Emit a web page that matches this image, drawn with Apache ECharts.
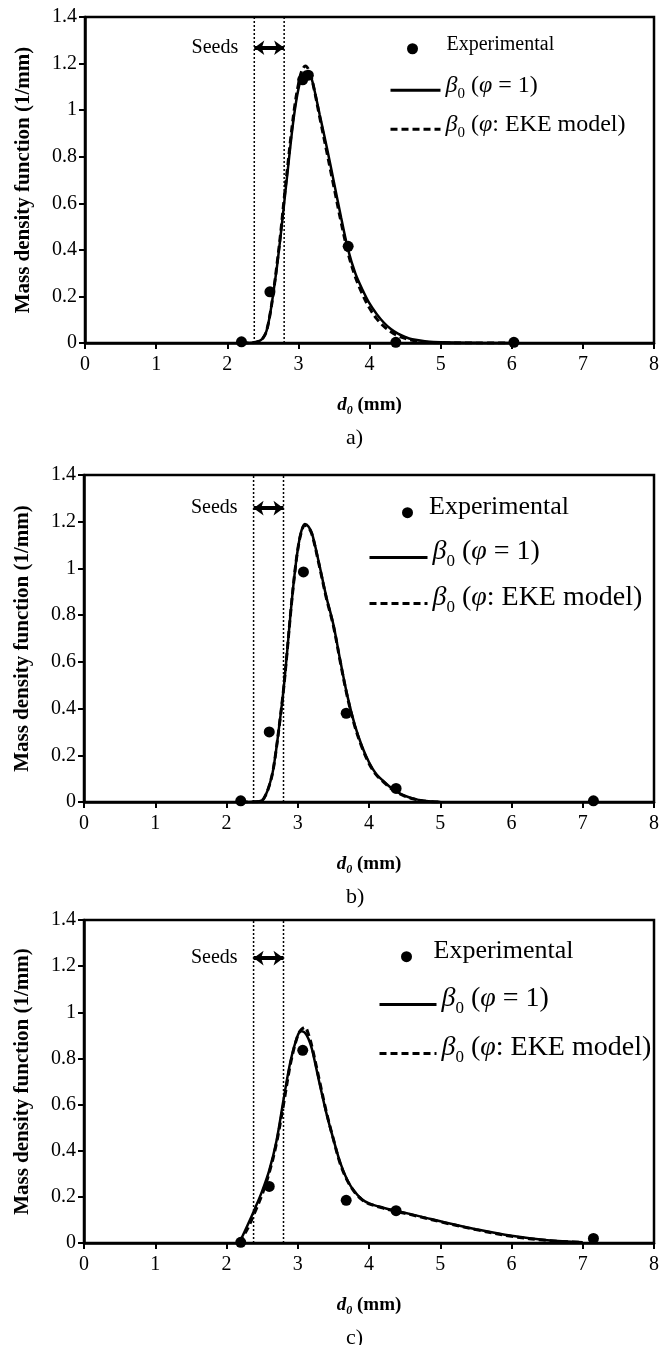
<!DOCTYPE html>
<html>
<head>
<meta charset="utf-8">
<script src="https://cdn.jsdelivr.net/npm/echarts@6/dist/echarts.min.js"></script>
<style>
html,body{margin:0;padding:0;background:#fff;}
#chart{width:662px;height:1345px;}
</style>
</head>
<body>
<div id="chart"></div>
<script>
// ---------- data ----------
const panelLabels = ['a)', 'b)', 'c)'];
const xTicks = [0, 1, 2, 3, 4, 5, 6, 7, 8];
const yTicks = [0, 0.2, 0.4, 0.6, 0.8, 1, 1.2, 1.4];
const seedsX = [2.38, 2.8];
const seedsY = [1.268, 1.258, 1.235];

// Experimental points
const expXa = [2.2, 2.6, 3.06, 3.14, 3.7, 4.37, 6.03];
const expYa = [0.005, 0.22, 1.13, 1.15, 0.415, 0.003, 0.003];
const expXb = [2.2, 2.6, 3.08, 3.68, 4.38, 7.15];
const expYb = [0.005, 0.30, 0.985, 0.38, 0.058, 0.005];
const expXc = [2.2, 2.6, 3.07, 3.68, 4.38, 7.15];
const expYc = [0.003, 0.245, 0.835, 0.185, 0.14, 0.02];

// Model curves, panel a
const curveXa = [2.2, 2.3, 2.4, 2.45, 2.5, 2.55, 2.6, 2.65, 2.7, 2.75, 2.8, 2.85, 2.9, 2.95, 3.0, 3.05, 3.1, 3.15, 3.2, 3.3, 3.4, 3.5, 3.6, 3.7, 3.8, 3.9, 4.0, 4.1, 4.2, 4.3, 4.4, 4.5, 4.6, 4.8, 5.0, 5.5, 6.0];
const solidA = [0, 0, 0.003, 0.008, 0.02, 0.05, 0.12, 0.22, 0.33, 0.46, 0.6, 0.74, 0.88, 1.0, 1.09, 1.145, 1.165, 1.16, 1.12, 0.98, 0.84, 0.69, 0.54, 0.40, 0.30, 0.23, 0.17, 0.125, 0.088, 0.06, 0.04, 0.026, 0.016, 0.007, 0.003, 0.001, 0];
const dashA = [0, 0, 0.003, 0.008, 0.02, 0.05, 0.12, 0.22, 0.34, 0.47, 0.62, 0.76, 0.9, 1.02, 1.11, 1.17, 1.19, 1.17, 1.12, 0.97, 0.82, 0.67, 0.52, 0.385, 0.285, 0.21, 0.15, 0.105, 0.072, 0.048, 0.031, 0.02, 0.012, 0.004, 0.001, 0, 0];

// panel b
const curveXb = [2.2, 2.4, 2.5, 2.55, 2.6, 2.65, 2.7, 2.75, 2.8, 2.85, 2.9, 2.95, 3.0, 3.05, 3.1, 3.15, 3.2, 3.3, 3.4, 3.5, 3.6, 3.7, 3.8, 3.9, 4.0, 4.1, 4.2, 4.3, 4.4, 4.5, 4.6, 4.7, 4.8, 5.0];
const solidB = [0, 0.001, 0.007, 0.03, 0.07, 0.13, 0.23, 0.35, 0.48, 0.64, 0.81, 0.96, 1.08, 1.16, 1.19, 1.18, 1.15, 1.02, 0.88, 0.76, 0.6, 0.45, 0.33, 0.24, 0.17, 0.12, 0.09, 0.063, 0.042, 0.027, 0.016, 0.009, 0.004, 0];
const dashB = [0, 0.001, 0.007, 0.03, 0.07, 0.13, 0.23, 0.35, 0.48, 0.64, 0.81, 0.96, 1.08, 1.155, 1.185, 1.175, 1.145, 1.015, 0.875, 0.755, 0.595, 0.445, 0.325, 0.235, 0.165, 0.117, 0.087, 0.06, 0.04, 0.025, 0.015, 0.008, 0.003, 0];

// panel c
const curveXc = [2.18, 2.3, 2.4, 2.5, 2.6, 2.7, 2.8, 2.9, 3.0, 3.05, 3.1, 3.15, 3.2, 3.3, 3.4, 3.5, 3.6, 3.7, 3.8, 3.9, 4.0, 4.2, 4.4, 4.6, 4.8, 5.0, 5.5, 6.0, 6.5, 7.0];
const solidC = [0, 0.08, 0.15, 0.225, 0.315, 0.44, 0.62, 0.79, 0.9, 0.918, 0.912, 0.885, 0.84, 0.70, 0.565, 0.45, 0.345, 0.27, 0.222, 0.19, 0.172, 0.153, 0.138, 0.124, 0.109, 0.094, 0.06, 0.031, 0.012, 0.003];
const dashC = [0, 0.065, 0.135, 0.21, 0.305, 0.43, 0.6, 0.78, 0.9, 0.925, 0.935, 0.905, 0.85, 0.71, 0.57, 0.45, 0.34, 0.268, 0.22, 0.188, 0.17, 0.151, 0.136, 0.122, 0.107, 0.092, 0.058, 0.029, 0.011, 0.002];

const NAME_EXP = 'Experimental';
const NAME_SOLID = 'β0 (φ = 1)';
const NAME_DASH = 'β0 (φ: EKE model)';

// ---------- layout ----------
const FONT = '"Liberation Serif", "Times New Roman", serif';
const grids = [
  {left: 85, top: 17, width: 569, height: 326},
  {left: 84, top: 475, width: 570, height: 327},
  {left: 84, top: 920, width: 570, height: 323}
];
const legendFontExp = [20, 26, 26];
const legendFontLine = [24, 28, 28];
const legendRows = [[41, 81, 120], [500, 545, 591], [944, 992, 1041]];
const legendDot = [{left: 407, w: 58}, {left: 402, w: 33}, {left: 401, w: 44}];
const legendLine = [{left: 389, w: 50}, {left: 368, w: 58}, {left: 378, w: 57}];

const expX = [expXa, expXb, expXc], expY = [expYa, expYb, expYc];
const curveX = [curveXa, curveXb, curveXc];
const solid = [solidA, solidB, solidC], dash = [dashA, dashB, dashC];
const zip = (xs, ys) => xs.map((x, i) => [x, ys[i]]);

function richFor(fs) {
  return {
    n: {fontFamily: FONT, fontSize: fs, color: '#000', lineHeight: fs * 1.3},
    i: {fontFamily: FONT, fontSize: fs, fontStyle: 'italic', color: '#000', lineHeight: fs * 1.3},
    s: {fontFamily: FONT, fontSize: Math.round(fs * 0.62), color: '#000', lineHeight: fs * 1.05, verticalAlign: 'bottom'}
  };
}
function legendFormatter(name) {
  if (name === NAME_SOLID) return '{i|β}{s|0}{n| (}{i|φ}{n| = 1)}';
  if (name === NAME_DASH) return '{i|β}{s|0}{n| (}{i|φ}{n|: EKE model)}';
  return '{n|' + name + '}';
}

const option = {
  backgroundColor: '#fff',
  animation: false,
  grid: grids.map(g => Object.assign({show: true, borderColor: '#000', borderWidth: 2.5, backgroundColor: 'transparent'}, g)),
  xAxis: grids.map((g, i) => ({
    type: 'value', gridIndex: i, min: xTicks[0], max: xTicks[xTicks.length - 1], interval: 1,
    axisLine: {lineStyle: {color: '#000', width: 2.5}},
    axisTick: {show: true, inside: false, length: 6, lineStyle: {color: '#000', width: 2}},
    axisLabel: {fontFamily: FONT, fontSize: 20, color: '#000', margin: 12},
    splitLine: {show: false},
    name: '{d|d}{s|0}{m| (mm)}', nameLocation: 'middle', nameGap: 50,
    nameTextStyle: {rich: {
      d: {fontFamily: FONT, fontSize: 19, fontWeight: 'bold', fontStyle: 'italic', color: '#000', lineHeight: 24},
      s: {fontFamily: FONT, fontSize: 12, fontWeight: 'bold', fontStyle: 'italic', color: '#000', lineHeight: 20, verticalAlign: 'bottom'},
      m: {fontFamily: FONT, fontSize: 19, fontWeight: 'bold', color: '#000', lineHeight: 24}
    }}
  })),
  yAxis: grids.map((g, i) => ({
    type: 'value', gridIndex: i, min: yTicks[0], max: yTicks[yTicks.length - 1], interval: 0.2,
    axisLine: {show: true, lineStyle: {color: '#000', width: 2.5}},
    axisTick: {show: true, inside: false, length: 6, lineStyle: {color: '#000', width: 2}},
    axisLabel: {fontFamily: FONT, fontSize: 20, color: '#000', margin: 8},
    splitLine: {show: false},
    name: 'Mass density function (1/mm)', nameLocation: 'middle', nameGap: 51,
    nameTextStyle: {fontFamily: FONT, fontSize: 21, fontWeight: 'bold', color: '#000'}
  })),
  legend: [],
  graphic: panelLabels.map((t, i) => ({
    type: 'text', left: 346, top: grids[i].top + grids[i].height + 84,
    style: {text: t, font: '22px ' + FONT, fill: '#000'}
  })),
  series: []
};

for (let i = 0; i < 3; i++) {
  const fe = legendFontExp[i], fl = legendFontLine[i];
  const rows = legendRows[i];
  option.legend.push({
    data: [{name: NAME_EXP, icon: 'circle'}], orient: 'vertical', padding: 0,
    left: legendDot[i].left, top: rows[0] - 6, itemWidth: legendDot[i].w, itemHeight: 11,
    selectedMode: false, formatter: legendFormatter,
    itemStyle: {opacity: 1},
    textStyle: {rich: richFor(fe), padding: [-(fe * 1.3 - 11) / 2, 0, 0, 0]}
  });
  [NAME_SOLID, NAME_DASH].forEach((nm, k) => {
    option.legend.push({
      data: [nm], orient: 'vertical', padding: 0,
      left: legendLine[i].left, top: rows[k + 1] - 7, itemWidth: legendLine[i].w, itemHeight: 14,
      selectedMode: false, formatter: legendFormatter,
      itemStyle: {opacity: 0, color: 'rgba(0,0,0,0)', borderWidth: 0},
      lineStyle: {width: 3},
      textStyle: {rich: richFor(fl), padding: [-(fl * 1.3 - 14) / 2, 0, 0, 0]}
    });
  });

  option.series.push({
    type: 'line', name: NAME_SOLID, xAxisIndex: i, yAxisIndex: i,
    data: zip(curveX[i], solid[i]), smooth: 0.35, symbol: 'none', z: 3,
    lineStyle: {color: '#000', width: 2.5}, itemStyle: {color: '#000'}
  });
  option.series.push({
    type: 'line', name: NAME_DASH, xAxisIndex: i, yAxisIndex: i,
    data: zip(curveX[i], dash[i]), smooth: 0.35, symbol: 'none', z: 2,
    lineStyle: {color: '#000', width: 3, type: [7, 4]}, itemStyle: {color: '#000'}
  });
  option.series.push({
    type: 'scatter', name: NAME_EXP, xAxisIndex: i, yAxisIndex: i,
    data: zip(expX[i], expY[i]), symbol: 'circle', symbolSize: 11, z: 5,
    itemStyle: {color: '#000', opacity: 1}
  });
  seedsX.forEach((sx, k) => {
    const s = {
      type: 'line', name: 'seed' + k, xAxisIndex: i, yAxisIndex: i, silent: true,
      data: [[sx, yTicks[0]], [sx, yTicks[yTicks.length - 1]]], symbol: 'none', z: 1,
      lineStyle: {color: '#000', width: 1.5, type: [2, 2]}
    };
    if (k === 0) {
      s.markLine = {
        silent: true, symbol: ['arrow', 'arrow'], symbolSize: [11, 10], label: {show: false},
        lineStyle: {color: '#000', width: 4, type: 'solid'},
        data: [[{coord: [seedsX[0], seedsY[i]]}, {coord: [seedsX[1], seedsY[i]]}]]
      };
    }
    option.series.push(s);
  });
  option.series.push({
    type: 'scatter', name: 'seedsText', xAxisIndex: i, yAxisIndex: i, silent: true,
    data: [[seedsX[0], seedsY[i]]], symbolSize: 0, itemStyle: {opacity: 1},
    label: {show: true, position: 'left', distance: 16, formatter: 'Seeds', fontFamily: FONT, fontSize: 20, color: '#000'}
  });
}

const chart = echarts.init(document.getElementById('chart'), null, {renderer: 'canvas'});
chart.setOption(option);
</script>
</body>
</html>
